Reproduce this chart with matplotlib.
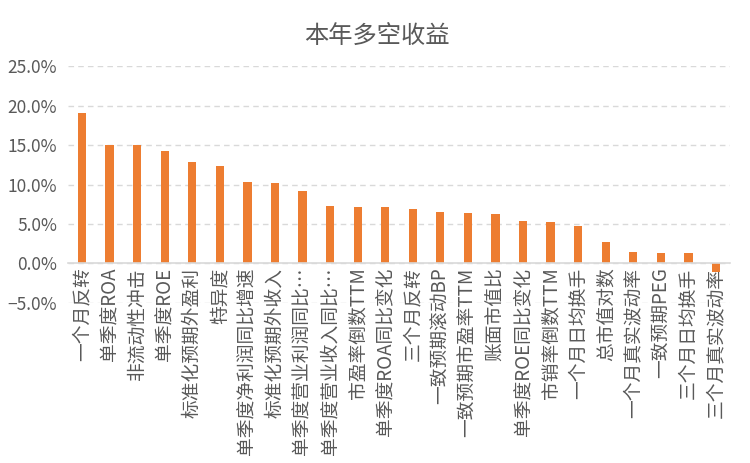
import matplotlib
matplotlib.use("Agg")
import matplotlib.pyplot as plt
from matplotlib.ticker import PercentFormatter

plt.rcParams['font.family'] = ['Noto Sans CJK SC', 'DejaVu Sans']

# 因子名称
factors = ['一个月反转', '单季度ROA', '非流动性冲击', '单季度ROE', '标准化预期外盈利',
           '特异度', '单季度净利润同比增速', '标准化预期外收入', '单季度营业利润同比…',
           '单季度营业收入同比…', '市盈率倒数TTM', '单季度ROA同比变化', '三个月反转',
           '一致预期滚动BP', '一致预期市盈率TTM', '账面市值比', '单季度ROE同比变化',
           '市销率倒数TTM', '一个月日均换手', '总市值对数', '一个月真实波动率',
           '一致预期PEG', '三个月日均换手', '三个月真实波动率']
# 本年多空收益 (%)
returns = [19.1, 15.0, 15.0, 14.3, 12.9, 12.4, 10.35, 10.2, 9.2, 7.3, 7.1, 7.1,
           6.9, 6.5, 6.4, 6.2, 5.4, 5.3, 4.8, 2.65, 1.4, 1.3, 1.3, -1.1]

text_color = '#595959'

fig = plt.figure(figsize=(7.5, 4.63), dpi=100)
ax = fig.add_axes([0.091, 0.346, 0.882, 0.511])

x = range(len(factors))
ax.bar(x, returns, width=0.3, color='#ED7D31', zorder=3)

ax.set_ylim(-5, 25)
ax.set_xlim(-0.5, len(factors) - 0.5)
ax.set_yticks([-5, 0, 5, 10, 15, 20, 25])
ax.yaxis.set_major_formatter(PercentFormatter(decimals=1))
ax.grid(axis='y', color='#D9D9D9', linestyle=(0, (4, 3)), linewidth=1, zorder=0)

for side in ['top', 'right', 'left']:
    ax.spines[side].set_visible(False)
ax.spines['bottom'].set_position(('data', 0))
ax.spines['bottom'].set_color('#D9D9D9')
ax.spines['bottom'].set_linewidth(1.2)
ax.spines['bottom'].set_zorder(4)

ax.set_xticks(list(x))
ax.set_xticklabels(factors, rotation=90, fontsize=13.5, color=text_color)
ax.tick_params(axis='x', length=0, pad=3)
ax.tick_params(axis='y', length=0, labelsize=12.5, labelcolor=text_color, pad=8)

fig.text(0.503, 0.92, '本年多空收益', ha='center', va='center', fontsize=17.5, color=text_color)

fig.savefig('out.png', dpi=100)
